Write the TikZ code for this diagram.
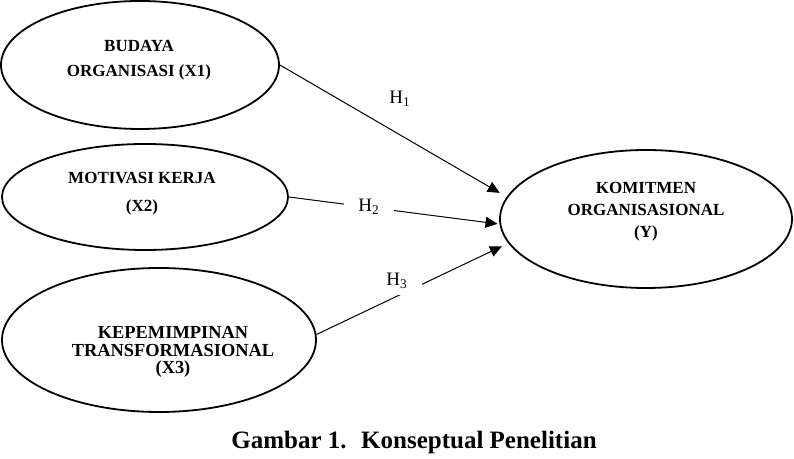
\documentclass[tikz,border=0pt]{standalone}
\usepackage{fontspec}
\setmainfont{Liberation Serif}
\usetikzlibrary{shapes.geometric,arrows.meta}

\begin{document}
\begin{tikzpicture}[x=0.5pt, y=-0.5pt,
    elips/.style={draw, ellipse, line width=0.9pt, inner sep=0pt},
    teks/.style={align=center, font=\fontsize{8.5}{12.5}\selectfont\bfseries},
    hip/.style={fill=white, inner xsep=7pt, inner ysep=3pt, font=\fontsize{9.5}{10}\selectfont},
    panah/.style={-{Triangle[length=6pt,width=5.5pt]}, line width=0.5pt}]
    \useasboundingbox (0,0) rectangle (794,459);

    % variabel bebas
    \node[elips, minimum width=139pt, minimum height=64pt] (x1) at (140,65) {};
    \node[elips, minimum width=143pt, minimum height=53pt] (x2) at (145,197) {};
    \node[elips, minimum width=157pt, minimum height=72pt] (x3) at (159,340) {};
    % variabel terikat
    \node[elips, minimum width=146pt, minimum height=69pt] (y) at (646,219) {};

    \node[teks] (t1) at (139,60) {BUDAYA\\ORGANISASI (X1)};
    \node[teks, font=\fontsize{8.5}{14}\selectfont\bfseries] (t2) at (142,194) {MOTIVASI KERJA\\(X2)};
    \node[teks, font=\fontsize{9.2}{8.6}\selectfont\bfseries] (t3) at (173,352) {KEPEMIMPINAN\\TRANSFORMASIONAL\\(X3)};
    \node[teks, font=\fontsize{8.5}{11}\selectfont\bfseries] (ty) at (646,212) {KOMITMEN\\ORGANISASIONAL\\(Y)};

    \draw[panah, shorten >=4pt] (x1.east) -- (y.171);
    \draw[panah, shorten >=1pt] (x2.east) -- (y.182);
    \draw[panah, shorten >=3.5pt] (x3.2) -- (y.190);

    % hipotesis
    \node[hip] (h1) at (400,99) {H\textsubscript{1}};
    \node[hip] (h2) at (369,207) {H\textsubscript{2}};
    \node[hip] (h3) at (397,281) {H\textsubscript{3}};

    \node[font=\fontsize{12.5}{14}\selectfont\bfseries] (judul) at (414,442) {Gambar 1.~ Konseptual Penelitian};

\end{tikzpicture}
\end{document}
